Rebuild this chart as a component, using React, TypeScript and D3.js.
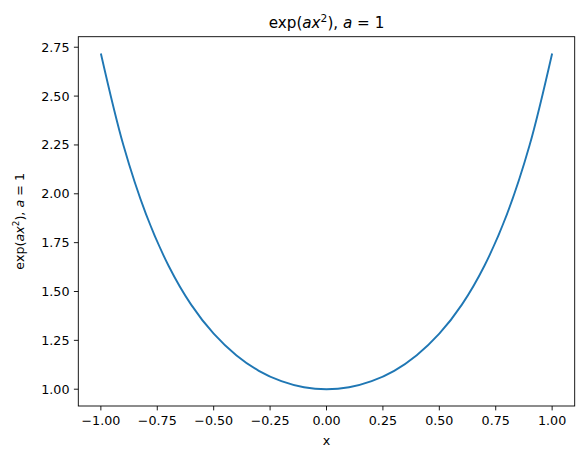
import * as d3 from "d3";

// points
const xValues = [
  -1.0, -0.9, -0.8, -0.7, -0.6, -0.5, -0.4, -0.3, -0.2, -0.1, 0.0,
  0.1, 0.2, 0.3, 0.4, 0.5, 0.6, 0.7, 0.8, 0.9, 1.0,
];
const yValues = [
  2.718, 2.248, 1.896, 1.632, 1.433, 1.284, 1.174, 1.094, 1.041, 1.01, 1.0,
  1.01, 1.041, 1.094, 1.174, 1.284, 1.433, 1.632, 1.896, 2.248, 2.718,
];
const xTicks = [-1, -0.75, -0.5, -0.25, 0, 0.25, 0.5, 0.75, 1];
const yTicks = [1, 1.25, 1.5, 1.75, 2, 2.25, 2.5, 2.75];

const width = 583;
const height = 459;
const margin = { top: 36.7, right: 8.3, bottom: 53, left: 78.3 };
const font = "DejaVu Sans, sans-serif";

const fmt = (v: number) => d3.format(".2f")(v).replace("-", "\u2212");

const MathLabel = () => (
  <>
    <tspan>exp(</tspan>
    <tspan fontStyle="italic">ax</tspan>
    <tspan baselineShift="super" fontSize="70%">2</tspan>
    <tspan>), </tspan>
    <tspan fontStyle="italic">a</tspan>
    <tspan> = 1</tspan>
  </>
);

const App = () => {
  const innerWidth = width - margin.left - margin.right;
  const innerHeight = height - margin.top - margin.bottom;

  const xScale = d3.scaleLinear().domain([-1.1, 1.1]).range([0, innerWidth]);
  const yMin = d3.min(yValues)!;
  const yMax = d3.max(yValues)!;
  const pad = (yMax - yMin) * 0.05;
  const yScale = d3
    .scaleLinear()
    .domain([yMin - pad, yMax + pad])
    .range([innerHeight, 0]);

  const points = xValues.map((x, i) => [x, yValues[i]] as [number, number]);
  const line = d3
    .line<[number, number]>()
    .x((d) => xScale(d[0]))
    .y((d) => yScale(d[1]))
    .curve(d3.curveCatmullRom.alpha(0.5));

  return (
    <svg width={width} height={height} style={{ position: "absolute", left: 0, top: 0 }}>
      <rect width={width} height={height} fill="white" />
      <text x={margin.left + innerWidth / 2} y={28} textAnchor="middle" fontFamily={font} fontSize={15.2}>
        <MathLabel />
      </text>
      <g transform={`translate(${margin.left},${margin.top})`}>
        <path d={line(points) || ""} fill="none" stroke="#1f77b4" strokeWidth={1.9} />
        <rect width={innerWidth} height={innerHeight} fill="none" stroke="black" strokeWidth={0.9} />
        {xTicks.map((t) => (
          <g key={t} transform={`translate(${xScale(t)},${innerHeight})`}>
            <line y2={4.4} stroke="black" strokeWidth={0.9} />
            <text y={19} textAnchor="middle" fontFamily={font} fontSize={12.7}>
              {fmt(t)}
            </text>
          </g>
        ))}
        {yTicks.map((t) => (
          <g key={t} transform={`translate(0,${yScale(t)})`}>
            <line x2={-4.4} stroke="black" strokeWidth={0.9} />
            <text x={-8.8} dy="0.35em" textAnchor="end" fontFamily={font} fontSize={12.7}>
              {fmt(t)}
            </text>
          </g>
        ))}
        <text x={innerWidth / 2} y={innerHeight + 39} textAnchor="middle" fontFamily={font} fontSize={12.7}>
          x
        </text>
      </g>
      <text
        transform={`translate(24,${margin.top + innerHeight / 2}) rotate(-90)`}
        textAnchor="middle"
        fontFamily={font}
        fontSize={12.7}
      >
        <MathLabel />
      </text>
    </svg>
  );
};

export default App;
